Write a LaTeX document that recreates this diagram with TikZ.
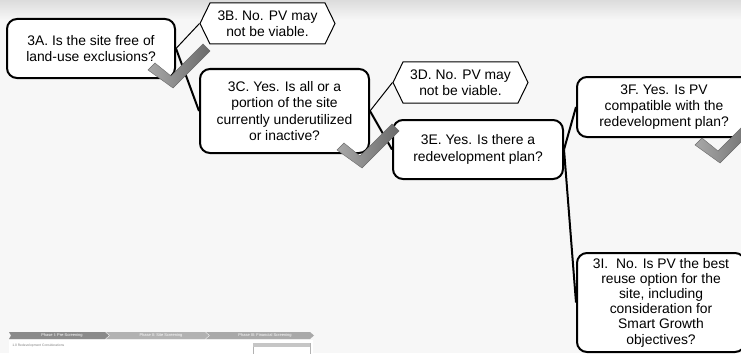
\documentclass[tikz,border=0pt]{standalone}
\usepackage{fontspec}
\setmainfont{Liberation Sans}
\usetikzlibrary{shapes.symbols}
\definecolor{rsBg}{HTML}{F7F7F7}
\definecolor{rsShade}{HTML}{DCDCDC}
\definecolor{rsTickL}{HTML}{A8A8A8}
\definecolor{rsTickD}{HTML}{6A6A6A}
\definecolor{rsBarA}{HTML}{8A8A8A}
\definecolor{rsBarB}{HTML}{B2B2B2}
\definecolor{rsBarC}{HTML}{A9A9A9}

\begin{document}
\begin{tikzpicture}[x=0.75pt,y=-0.75pt,
    qbox/.style={draw, line width=1.5pt, rounded corners=7.5pt, fill=white, align=center,
                 inner sep=0pt, font=\fontsize{10.4}{12.3}\selectfont},
    nobox/.style={draw, line width=0.75pt, fill=white, shape=signal, signal to=west and east,
                  signal pointer angle=128, minimum width=101.25pt, minimum height=30.75pt,
                  align=center, inner sep=0pt, font=\fontsize{10.4}{12.3}\selectfont},
    yesline/.style={line width=1.5pt},
    noline/.style={line width=0.75pt},
    phase/.style={text=white, font=\fontsize{3}{3}\selectfont, inner sep=0pt},
    tick/.pic={
      \shade[left color=rsTickL, right color=rsTickD, draw=rsTickD, line width=0.3pt]
        (-25,-15) -- (-18,-22) -- (-2,-9) -- (30,-41) -- (37,-34) -- (0,3) -- cycle;
    }]
    \useasboundingbox (0,0) rectangle (741,353);
    \clip (0,0) rectangle (741,353);
    \fill[rsBg] (0,0) rectangle (741,353);
    \shade[top color=rsShade, bottom color=rsBg] (0,0) rectangle (741,20);

    \fill[rsBarA] (9,332) -- (105,332) -- (109,335.5) -- (105,339) -- (9,339) -- (11,335.5) -- cycle;
    \fill[rsBarB] (106,332) -- (205,332) -- (209,335.5) -- (205,339) -- (106,339) -- (110,335.5) -- cycle;
    \fill[rsBarC] (206,332) -- (310,332) -- (314,335.5) -- (310,339) -- (206,339) -- (210,335.5) -- cycle;
    \node[phase] (ph1) at (62,335.5) {Phase I: Pre-Screening};
    \node[phase] (ph2) at (161,335.5) {Phase II: Site Screening};
    \node[phase] (ph3) at (265,335.5) {Phase III: Financial Screening};
    \fill[white] (9,340) rectangle (313,353);
    \node[anchor=west, text=gray, font=\fontsize{2.5}{2.5}\selectfont, inner sep=0pt] (sec) at (12,346)
        {1.0 Redevelopment Considerations};
    \draw[gray!60, line width=0.3pt, fill=white] (253,343) rectangle (310,355);
    \fill[gray!45] (253,343) rectangle (310,347);

    \node[qbox, minimum width=126pt, minimum height=44.25pt] (q3a) at (91,48.5)
        {3A. Is the site free of\\land-use exclusions?};
    \node[nobox] (q3b) at (267.5,23.5) {3B. No. PV may\\not be viable.};
    \node[qbox, minimum width=126.75pt, minimum height=63pt] (q3c) at (284.5,111)
        {3C. Yes. Is all or a\\portion of the site\\currently underutilized\\or inactive?};
    \node[nobox] (q3d) at (460.5,82.5) {3D. No. PV may\\not be viable.};
    \node[qbox, minimum width=127.5pt, minimum height=44.25pt] (q3e) at (478,149.5)
        {3E. Yes. Is there a\\redevelopment plan?};
    \node[qbox, minimum width=130.5pt, minimum height=45pt] (q3f) at (664,107)
        {3F. Yes. Is PV\\compatible with the\\redevelopment plan?};
    \node[qbox, minimum width=126pt, minimum height=74.25pt, font=\fontsize{10.4}{11.4}\selectfont] (q3i) at (661,302.5)
        {3I.\ \ No. Is PV the best\\reuse option for the\\site, including\\consideration for\\Smart Growth\\objectives?};

    \draw[noline] (q3a.east) -- (q3b.west);
    \draw[yesline] (q3a.east) -- (q3c.west);
    \draw[noline] (q3c.east) -- (q3d.west);
    \draw[yesline] (q3c.east) -- (q3e.west);
    \draw[yesline] (q3e.east) -- (q3f.west);
    \draw[yesline] (q3e.east) -- (q3i.west);

    \pic at (173,85) {tick};
    \pic at (362,165) {tick};
    \pic at (720,160) {tick};
\end{tikzpicture}
\end{document}
